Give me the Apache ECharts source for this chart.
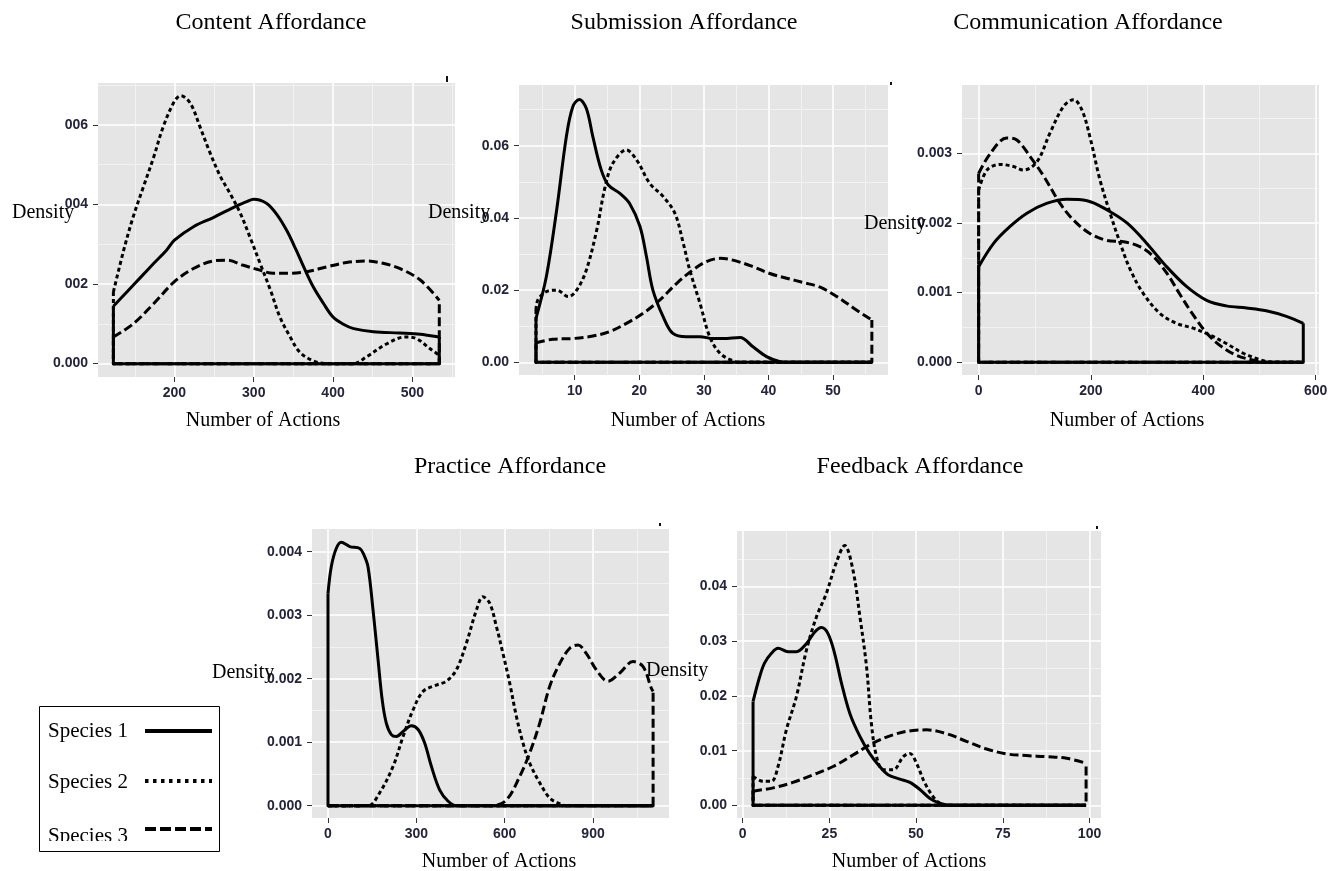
<!DOCTYPE html>
<html>
<head>
<meta charset="utf-8">
<script src="https://cdn.jsdelivr.net/npm/echarts@6/dist/echarts.min.js"></script>
<style>
  html, body { margin: 0; padding: 0; background: #ffffff; }
  #chart { width: 1341px; height: 871px; }
</style>
</head>
<body>
<div id="chart"></div>
<script>
// ---- Labels ----
const panelTitles = ['Content Affordance', 'Submission Affordance', 'Communication Affordance',
                     'Practice Affordance', 'Feedback Affordance'];
const speciesNames = ['Species 1', 'Species 2', 'Species 3'];
const xAxisTitle = 'Number of Actions';
const yAxisTitle = 'Density';

// ---- Content affordance: density estimates [actions, density] ----
const contentS1 = [[123,0.00144],[140,0.00180],[157,0.00216],[174,0.00252],[190,0.00285],[200,0.00310],[224,0.00344],[249,0.00367],[274,0.00392],[291,0.00407],[300,0.00413],[316,0.00403],[329,0.00375],[342,0.00333],[354,0.00283],[363,0.00243],[375,0.00193],[388,0.00151],[400,0.00117],[413,0.00099],[426,0.00088],[451,0.00080],[484,0.00077],[510,0.00074],[534,0.00067]];
const contentS2 = [[123,0.00180],[136,0.00285],[148,0.00369],[161,0.00445],[174,0.00520],[186,0.00596],[200,0.00659],[208,0.00673],[220,0.00654],[232,0.00596],[245,0.00529],[258,0.00470],[270,0.00428],[283,0.00378],[295,0.00319],[308,0.00252],[321,0.00185],[333,0.00117],[346,0.00067],[358,0.00029],[375,0.00007],[392,0],[426,0],[442,0.00017],[468,0.00050],[491,0.00067],[505,0.00063],[522,0.00038],[534,0.00021]];
const contentS3 = [[123,0.00067],[148,0.00100],[174,0.00151],[200,0.00206],[224,0.00239],[249,0.00258],[266,0.00260],[287,0.00247],[304,0.00237],[325,0.00227],[346,0.00227],[367,0.00231],[392,0.00243],[417,0.00254],[442,0.00258],[463,0.00252],[484,0.00239],[510,0.00210],[534,0.00159]];
const contentXTicks = [200, 300, 400, 500];
const contentXLabels = ['200', '300', '400', '500'];
const contentXMinor = [150, 250, 350, 450, 550];
const contentYTicks = [0, 0.002, 0.004, 0.006];
const contentYLabels = ['0.000', '002', '004', '006'];
const contentYMinor = [0.001, 0.003, 0.005, 0.007];

// ---- Submission affordance ----
const submissionS1 = [[4,0.0122],[5.6,0.0237],[7.2,0.0422],[8.7,0.0625],[9.7,0.0708],[10.7,0.0728],[11.8,0.0703],[12.8,0.0625],[14.1,0.0533],[15.2,0.0491],[17,0.0468],[18.5,0.0440],[20.1,0.0376],[21.1,0.0293],[22.1,0.0200],[23.7,0.0126],[25.2,0.0080],[27.3,0.0071],[29.4,0.0071],[31.4,0.0066],[33,0.0066],[35.6,0.0069],[37.6,0.0043],[39.7,0.0016],[41.8,0.0002],[43,0],[56,0]];
const submissionS2 = [[4,0.0145],[4.3,0.0173],[5.6,0.0196],[7.2,0.0200],[9,0.0182],[10.3,0.0200],[11.8,0.0256],[13.4,0.0366],[14.7,0.0486],[15.9,0.0551],[18,0.0588],[19.6,0.0560],[21.6,0.0496],[23.7,0.0459],[25.5,0.0413],[26.8,0.0330],[27.8,0.0256],[29.4,0.0163],[30.9,0.0071],[32.5,0.0025],[34.5,0.0004],[35.5,0],[56,0]];
const submissionS3 = [[4,0.0054],[6.6,0.0064],[9.7,0.0066],[12.8,0.0073],[15.4,0.0085],[18,0.0108],[20.6,0.0136],[23.2,0.0173],[25.8,0.0219],[28.3,0.0256],[30.4,0.0279],[32.5,0.0288],[34.5,0.0283],[37.6,0.0265],[40.2,0.0246],[42.8,0.0233],[45.4,0.0221],[48,0.0208],[50.6,0.0182],[53.2,0.0150],[56,0.0117]];
const submissionXTicks = [10, 20, 30, 40, 50];
const submissionXLabels = ['10', '20', '30', '40', '50'];
const submissionXMinor = [5, 15, 25, 35, 45, 55];
const submissionYTicks = [0, 0.02, 0.04, 0.06];
const submissionYLabels = ['0.00', '0.02', '0.04', '0.06'];
const submissionYMinor = [0.01, 0.03, 0.05, 0.07];

// ---- Communication affordance ----
const communicationS1 = [[0,0.00137],[27,0.00171],[56,0.00195],[86,0.00214],[121,0.00228],[157,0.00234],[193,0.00232],[228,0.00219],[264,0.00200],[299,0.00171],[335,0.00137],[370,0.00109],[406,0.00089],[441,0.00081],[477,0.00078],[512,0.00074],[548,0.00066],[578,0.00056]];
const communicationS2 = [[0,0.00247],[15,0.00276],[38,0.00284],[62,0.00281],[80,0.00276],[104,0.00288],[127,0.00329],[151,0.00367],[169,0.00377],[184,0.00362],[198,0.00324],[216,0.00262],[234,0.00214],[252,0.00171],[270,0.00133],[293,0.00099],[323,0.00070],[352,0.00056],[382,0.00049],[412,0.00039],[441,0.00027],[471,0.00013],[500,0.00004],[515,0.00001],[530,0],[578,0]];
const communicationS3 = [[0,0.00271],[21,0.00300],[50,0.00322],[68,0.00319],[92,0.00295],[116,0.00267],[145,0.00228],[169,0.00204],[198,0.00185],[228,0.00175],[258,0.00173],[287,0.00166],[311,0.00152],[335,0.00128],[358,0.00098],[382,0.00068],[406,0.00042],[430,0.00024],[459,0.00010],[489,0.00003],[510,0],[578,0]];
const communicationXTicks = [0, 200, 400, 600];
const communicationXLabels = ['0', '200', '400', '600'];
const communicationXMinor = [100, 300, 500];
const communicationYTicks = [0, 0.001, 0.002, 0.003];
const communicationYLabels = ['0.000', '0.001', '0.002', '0.003'];
const communicationYMinor = [0.0005, 0.0015, 0.0025, 0.0035];

// ---- Practice affordance ----
const practiceS1 = [[0,0.00334],[11,0.00376],[28,0.00405],[45,0.00415],[74,0.00408],[108,0.00405],[122,0.00395],[136,0.00376],[153,0.00308],[170,0.00230],[184,0.00167],[198,0.00130],[215,0.00112],[232,0.00109],[255,0.00117],[283,0.00126],[306,0.00120],[328,0.00099],[351,0.00062],[379,0.00025],[408,0.00007],[436,0],[1104,0]];
const practiceS2 = [[0,0],[136,0],[175,0.00020],[221,0.00062],[255,0.00109],[289,0.00151],[323,0.00180],[368,0.00190],[402,0.00196],[436,0.00214],[470,0.00256],[504,0.00308],[526,0.00329],[549,0.00319],[572,0.00282],[594,0.00240],[617,0.00193],[640,0.00140],[662,0.00099],[685,0.00067],[719,0.00036],[753,0.00012],[787,0.00003],[809,0],[1104,0]];
const practiceS3 = [[0,0],[560,0],[606,0.00009],[651,0.00046],[685,0.00083],[719,0.00130],[753,0.00188],[787,0.00224],[821,0.00248],[849,0.00253],[877,0.00240],[911,0.00214],[951,0.00196],[991,0.00209],[1036,0.00227],[1070,0.00219],[1098,0.00185],[1104,0.00180]];
const practiceXTicks = [0, 300, 600, 900];
const practiceXLabels = ['0', '300', '600', '900'];
const practiceXMinor = [150, 450, 750, 1050];
const practiceYTicks = [0, 0.001, 0.002, 0.003, 0.004];
const practiceYLabels = ['0.000', '0.001', '0.002', '0.003', '0.004'];
const practiceYMinor = [0.0005, 0.0015, 0.0025, 0.0035];

// ---- Feedback affordance ----
const feedbackS1 = [[3,0.0190],[4.9,0.0235],[6.3,0.0260],[8.3,0.0278],[10.2,0.0287],[13.1,0.0281],[15.5,0.0281],[18.4,0.0296],[20.8,0.0317],[22.7,0.0325],[24.6,0.0314],[26.5,0.0278],[28.5,0.0223],[30.9,0.0168],[33.8,0.0126],[36.6,0.0095],[39.5,0.0071],[41.9,0.0056],[45.3,0.0048],[48.2,0.0042],[51.1,0.0029],[53.9,0.0013],[56.8,0.0004],[59.7,0],[99,0]];
const feedbackS2 = [[3,0.0053],[5.9,0.0044],[8.3,0.0044],[10.2,0.0071],[12.6,0.0138],[15.5,0.0199],[18.4,0.0284],[21.3,0.0345],[24.1,0.0387],[26.9,0.0442],[29.4,0.0475],[31.8,0.0430],[33.8,0.0345],[35.7,0.0254],[37.1,0.0150],[38.6,0.0089],[40.5,0.0065],[43.4,0.0065],[46.3,0.0089],[48.2,0.0095],[50.1,0.0077],[52.5,0.0041],[54.9,0.0016],[56.8,0.0004],[58.8,0],[99,0]];
const feedbackS3 = [[3,0.0026],[8.8,0.0032],[14.5,0.0042],[20.3,0.0056],[26.1,0.0071],[31.8,0.0092],[37.6,0.0114],[43.4,0.0129],[49.1,0.0137],[53,0.0138],[58.8,0.0131],[64.5,0.0117],[70.3,0.0103],[76.1,0.0094],[81.8,0.0091],[87.6,0.0089],[93.4,0.0086],[99,0.0077]];
const feedbackXTicks = [0, 25, 50, 75, 100];
const feedbackXLabels = ['0', '25', '50', '75', '100'];
const feedbackXMinor = [12.5, 37.5, 62.5, 87.5];
const feedbackYTicks = [0, 0.01, 0.02, 0.03, 0.04];
const feedbackYLabels = ['0.00', '0.01', '0.02', '0.03', '0.04'];
const feedbackYMinor = [0.005, 0.015, 0.025, 0.035, 0.045];

// ---- Panel layout ----
const panels = [
  { curves: [contentS1, contentS2, contentS3],
    xTicks: contentXTicks, xLabels: contentXLabels, xMinor: contentXMinor,
    yTicks: contentYTicks, yLabels: contentYLabels, yMinor: contentYMinor,
    box: { left: 98, top: 83, width: 357, height: 294 },
    xRange: [103.6, 553.8], yRange: [-0.000336, 0.00705],
    title: [271, 23], xTitle: [263, 421], yTitle: [12, 213] },
  { curves: [submissionS1, submissionS2, submissionS3],
    xTicks: submissionXTicks, xLabels: submissionXLabels, xMinor: submissionXMinor,
    yTicks: submissionYTicks, yLabels: submissionYLabels, yMinor: submissionYMinor,
    box: { left: 519, top: 85, width: 369, height: 290 },
    xRange: [1.37, 58.5], yRange: [-0.0035, 0.0768],
    title: [684, 23], xTitle: [688, 421], yTitle: [428, 213] },
  { curves: [communicationS1, communicationS2, communicationS3],
    xTicks: communicationXTicks, xLabels: communicationXLabels, xMinor: communicationXMinor,
    yTicks: communicationYTicks, yLabels: communicationYLabels, yMinor: communicationYMinor,
    box: { left: 962, top: 85, width: 357, height: 290 },
    xRange: [-29.6, 606], yRange: [-0.000182, 0.00398],
    title: [1088, 23], xTitle: [1127, 421], yTitle: [864, 224] },
  { curves: [practiceS1, practiceS2, practiceS3],
    xTicks: practiceXTicks, xLabels: practiceXLabels, xMinor: practiceXMinor,
    yTicks: practiceYTicks, yLabels: practiceYLabels, yMinor: practiceYMinor,
    box: { left: 312, top: 529, width: 357, height: 289 },
    xRange: [-54.3, 1158], yRange: [-0.000194, 0.004357],
    title: [510, 467], xTitle: [499, 862], yTitle: [212, 673] },
  { curves: [feedbackS1, feedbackS2, feedbackS3],
    xTicks: feedbackXTicks, xLabels: feedbackXLabels, xMinor: feedbackXMinor,
    yTicks: feedbackYTicks, yLabels: feedbackYLabels, yMinor: feedbackYMinor,
    box: { left: 737, top: 531, width: 364, height: 287 },
    xRange: [-1.63, 103.3], yRange: [-0.00231, 0.05015],
    title: [920, 467], xTitle: [909, 862], yTitle: [646, 671] }
];

// Line patterns for the three species
const speciesStyles = [
  { type: 'solid' },
  { type: [4, 3] },
  { type: [9, 4] }
];
const curveWidth = 3;
const serif = '"Liberation Serif", "Times New Roman", serif';
const tickFont = { fontSize: 14, fontWeight: 'bold', fontFamily: '"Liberation Sans", Arial, sans-serif', color: '#24243a' };

function labelFor(ticks, labels) {
  return function (v) {
    for (let i = 0; i < ticks.length; i++) {
      if (Math.abs(ticks[i] - v) <= 1e-12 + Math.abs(ticks[i]) * 1e-9) return labels[i];
    }
    return '';
  };
}

const grids = [], xAxes = [], yAxes = [], series = [];

panels.forEach((p, i) => {
  grids.push({
    left: p.box.left, top: p.box.top, width: p.box.width, height: p.box.height,
    show: true, backgroundColor: '#E5E5E5', borderWidth: 0,
    containLabel: false, outerBoundsMode: 'none'
  });

  // minor grid lines (drawn first, beneath the major ones)
  xAxes.push({
    type: 'value', gridIndex: i, min: p.xRange[0], max: p.xRange[1], position: 'bottom', z: 0.5,
    axisLine: { show: false, onZero: false },
    axisTick: { show: false, customValues: p.xMinor },
    axisLabel: { show: false, customValues: p.xMinor },
    splitLine: { show: true, lineStyle: { color: '#F2F2F2', width: 1 } }
  });
  yAxes.push({
    type: 'value', gridIndex: i, min: p.yRange[0], max: p.yRange[1], position: 'left', z: 0.5,
    axisLine: { show: false, onZero: false },
    axisTick: { show: false, customValues: p.yMinor },
    axisLabel: { show: false, customValues: p.yMinor },
    splitLine: { show: true, lineStyle: { color: '#F2F2F2', width: 1 } }
  });
  // major axes with ticks and labels
  xAxes.push({
    type: 'value', gridIndex: i, min: p.xRange[0], max: p.xRange[1], position: 'bottom', z: 1,
    axisLine: { show: false, onZero: false },
    axisTick: { show: true, length: 5, customValues: p.xTicks, lineStyle: { color: '#333333', width: 1 } },
    axisLabel: Object.assign({ customValues: p.xTicks, margin: 9, formatter: labelFor(p.xTicks, p.xLabels) }, tickFont),
    splitLine: { show: true, lineStyle: { color: '#FFFFFF', width: 1.5 } }
  });
  yAxes.push({
    type: 'value', gridIndex: i, min: p.yRange[0], max: p.yRange[1], position: 'left', z: 1,
    axisLine: { show: false, onZero: false },
    axisTick: { show: true, length: 5, customValues: p.yTicks, lineStyle: { color: '#333333', width: 1 } },
    axisLabel: Object.assign({ customValues: p.yTicks, margin: 10, formatter: labelFor(p.yTicks, p.yLabels) }, tickFont),
    splitLine: { show: true, lineStyle: { color: '#FFFFFF', width: 1.5 } }
  });

  p.curves.forEach((curve, k) => {
    const first = curve[0], last = curve[curve.length - 1];
    const lineStyle = { color: '#000000', width: curveWidth, type: speciesStyles[k].type, cap: 'butt', join: 'round' };
    // density curve
    series.push({
      name: speciesNames[k], type: 'line', xAxisIndex: 2 * i + 1, yAxisIndex: 2 * i + 1,
      data: curve, smooth: 0.35, symbol: 'none', showSymbol: false, silent: true,
      lineStyle: lineStyle, z: 3, animation: false
    });
    // outline: end verticals and baseline of the density polygon
    series.push({
      name: speciesNames[k] + ' outline', type: 'line', xAxisIndex: 2 * i + 1, yAxisIndex: 2 * i + 1,
      data: [[first[0], first[1]], [first[0], 0], [last[0], 0], [last[0], last[1]]],
      smooth: false, symbol: 'none', showSymbol: false, silent: true,
      lineStyle: lineStyle, z: 3, animation: false
    });
  });
});

// ---- Text and legend ----
const graphics = [];
panels.forEach((p, i) => {
  graphics.push({ type: 'text', x: p.title[0], y: p.title[1], z: 100,
    style: { text: panelTitles[i], fontFamily: serif, fontSize: 24, fill: '#000', align: 'center', verticalAlign: 'middle' } });
  graphics.push({ type: 'text', x: p.xTitle[0], y: p.xTitle[1], z: 100,
    style: { text: xAxisTitle, fontFamily: serif, fontSize: 20, fill: '#000', align: 'center', verticalAlign: 'middle' } });
  graphics.push({ type: 'text', x: p.yTitle[0], y: p.yTitle[1], z: 100,
    style: { text: yAxisTitle, fontFamily: serif, fontSize: 20, fill: '#000', align: 'left', verticalAlign: 'middle' } });
});

// small corner marks above the panels
[[446, 76, 2, 6], [890, 82, 2, 3], [659, 523, 2, 3], [1096, 526, 2, 3]].forEach(r => {
  graphics.push({ type: 'rect', z: 100, shape: { x: r[0], y: r[1], width: r[2], height: r[3] }, style: { fill: '#111' } });
});

// legend box
graphics.push({ type: 'rect', z: 100, shape: { x: 39.5, y: 706.5, width: 180, height: 145 },
  style: { fill: '#ffffff', stroke: '#000000', lineWidth: 1 } });
const legendRows = [731, 782, 836];
const legendLineRows = [731, 781, 829];
const legendDash = [null, [3.5, 4.5], [11, 4]];
speciesNames.forEach((name, k) => {
  graphics.push({ type: 'text', x: 48, y: legendRows[k], z: 101,
    style: { text: name, fontFamily: serif, fontSize: 21, fill: '#000', align: 'left', verticalAlign: 'middle' } });
  graphics.push({ type: 'line', z: 101, shape: { x1: 145, y1: legendLineRows[k], x2: 212, y2: legendLineRows[k] },
    style: { stroke: '#000', lineWidth: 4, lineDash: legendDash[k] } });
});
// the lowest legend row is cut by the lower edge of its frame
graphics.push({ type: 'rect', z: 102, shape: { x: 40, y: 841, width: 100, height: 10 }, style: { fill: '#ffffff' } });

const chart = echarts.init(document.getElementById('chart'), null, { renderer: 'canvas' });
chart.setOption({
  backgroundColor: '#ffffff',
  animation: false,
  grid: grids,
  xAxis: xAxes,
  yAxis: yAxes,
  series: series,
  graphic: { elements: graphics }
});
</script>
</body>
</html>
